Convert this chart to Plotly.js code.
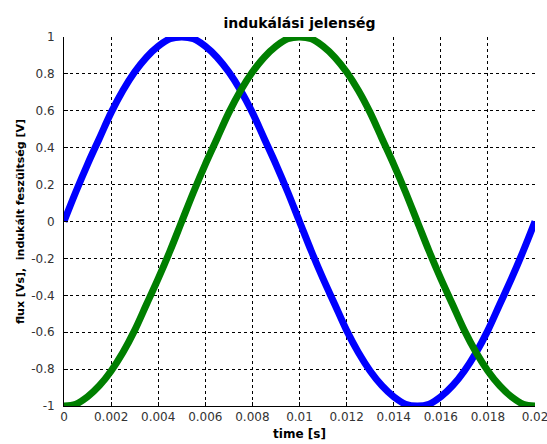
<!DOCTYPE html>
<html><head><meta charset="utf-8">
<script src="https://cdn.plot.ly/plotly-3.0.1.min.js"></script>
<style>body{margin:0;background:#fff}#c{width:547px;height:444px}</style>
</head><body><div id="c"></div>
<script>
const time = [0,0.0005,0.001,0.0015,0.002,0.0025,0.003,0.0035,0.004,0.0045,0.005,0.0055,0.006,0.0065,0.007,0.0075,0.008,0.0085,0.009,0.0095,0.01,0.0105,0.011,0.0115,0.012,0.0125,0.013,0.0135,0.014,0.0145,0.015,0.0155,0.016,0.0165,0.017,0.0175,0.018,0.0185,0.019,0.0195,0.02];
const flux = [0,0.16,0.31,0.45,0.59,0.71,0.81,0.89,0.95,0.99,1,0.99,0.95,0.89,0.81,0.71,0.59,0.45,0.31,0.16,0,-0.16,-0.31,-0.45,-0.59,-0.71,-0.81,-0.89,-0.95,-0.99,-1,-0.99,-0.95,-0.89,-0.81,-0.71,-0.59,-0.45,-0.31,-0.16,0];
const voltage = [-1,-0.99,-0.95,-0.89,-0.81,-0.71,-0.59,-0.45,-0.31,-0.16,0,0.16,0.31,0.45,0.59,0.71,0.81,0.89,0.95,0.99,1,0.99,0.95,0.89,0.81,0.71,0.59,0.45,0.31,0.16,0,-0.16,-0.31,-0.45,-0.59,-0.71,-0.81,-0.89,-0.95,-0.99,-1];
const xTicks = [0,0.002,0.004,0.006,0.008,0.01,0.012,0.014,0.016,0.018,0.02];
const xLabels = ["0","0.002","0.004","0.006","0.008","0.01","0.012","0.014","0.016","0.018","0.02"];
const yTicks = [-1,-0.8,-0.6,-0.4,-0.2,0,0.2,0.4,0.6,0.8,1];
const yLabels = ["-1","-0.8","-0.6","-0.4","-0.2","0","0.2","0.4","0.6","0.8","1"];

const traces = [
  {x: time, y: flux, mode:'lines', line:{color:'#0000ff', width:7, shape:'spline'}, cliponaxis:false},
  {x: time, y: voltage, mode:'lines', line:{color:'#007f00', width:7, shape:'spline'}, cliponaxis:false}
];
const fam = 'DejaVu Sans, sans-serif';
const layout = {
  width:547, height:444,
  margin:{l:64, r:12, t:37, b:38},
  paper_bgcolor:'#fff', plot_bgcolor:'#fff',
  showlegend:false,
  font: {family:fam, size:12, color:'#333'},
  title:{text:'<b>indukálási jelenség</b>', font:{family:fam, size:14, color:'#000'}, x:0.5, xref:'paper', y:1, yref:'paper', yanchor:'bottom', pad:{b:9}},
  xaxis:{range:[0,0.02], tickvals:xTicks, ticktext:xLabels, showgrid:true, gridcolor:'#000', griddash:'3px,3px', gridwidth:1,
    ticks:'inside', ticklen:4, tickcolor:'#000', showline:true, linecolor:'#000', linewidth:1, zeroline:false,
    ticklabeloverflow:'allow',
    tickfont:{family:fam, size:12, color:'#333'},
    title:{text:'<b>time [s]</b>', font:{family:fam, size:12, color:'#000'}, standoff:6}},
  yaxis:{range:[-1,1], tickvals:yTicks, ticktext:yLabels, showgrid:true, gridcolor:'#000', griddash:'3px,3px', gridwidth:1,
    ticks:'inside', ticklen:4, tickcolor:'#000', showline:true, linecolor:'#000', linewidth:1, zeroline:false,
    ticklabeloverflow:'allow', ticklabelstandoff:6,
    tickfont:{family:fam, size:12, color:'#333'},
    title:{text:'<b>flux [Vs],  indukált feszültség [V]</b>', font:{family:fam, size:11, color:'#000'}, standoff:4}}
};
Plotly.newPlot('c', traces, layout, {displayModeBar:false, staticPlot:true});
</script></body></html>
